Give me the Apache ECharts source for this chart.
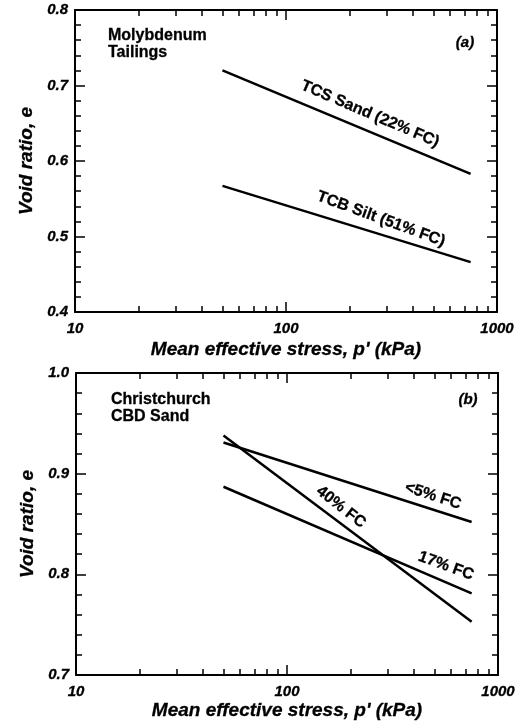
<!DOCTYPE html>
<html>
<head>
<meta charset="utf-8">
<script src="https://cdn.jsdelivr.net/npm/echarts@6/dist/echarts.min.js"></script>
<style>
html, body { margin: 0; padding: 0; background: #fff; }
#main { width: 527px; height: 726px; }
</style>
</head>
<body>
<div id="main"></div>
<script>
// 数据 (a) Molybdenum Tailings
var stressA = [50, 750];
var tcsSand = [0.720, 0.583];
var tcbSilt = [0.567, 0.466];
// 数据 (b) Christchurch CBD Sand
var stressB = [50, 750];
var fc5 = [0.931, 0.852];
var fc17 = [0.887, 0.781];
var fc40 = [0.938, 0.753];
// 刻度
var minorX = [20, 30, 40, 50, 60, 70, 80, 90, 200, 300, 400, 500, 600, 700, 800, 900];

var FONT = 'Liberation Sans, Arial, sans-serif';

// 简易 extend
var $ = {
    extend: function (target) {
        for (var i = 1; i < arguments.length; i++) {
            var src = arguments[i];
            for (var k in src) { target[k] = src[k]; }
        }
        return target;
    }
};

function pairs(xs, ys) {
    var out = [];
    for (var i = 0; i < xs.length; i++) {
        out.push([xs[i], ys[i]]);
    }
    return out;
}

var labelStyle = {
    fontFamily: FONT, fontWeight: 'bold', fontStyle: 'italic', fontSize: 15, color: '#000',
    textBorderColor: '#000', textBorderWidth: 0.3
};
var nameStyle = {
    fontFamily: FONT, fontWeight: 'bold', fontStyle: 'italic', fontSize: 19, color: '#000',
    textBorderColor: '#000', textBorderWidth: 0.3
};

function xAxes(gridIndex, nameGap) {
    var base = {
        type: 'log', logBase: 10, min: 10, max: 1000, gridIndex: gridIndex,
        splitLine: { show: false }
    };
    return [
        // 下方主刻度
        $.extend({}, base, {
            position: 'bottom',
            name: "Mean effective stress, p' (kPa)",
            nameLocation: 'middle',
            nameGap: nameGap,
            nameTextStyle: nameStyle,
            axisLine: { show: true, lineStyle: { color: '#000', width: 2 } },
            axisTick: { show: true, inside: true, length: 10, lineStyle: { color: '#000', width: 1.5 } },
            axisLabel: $.extend({ show: true, margin: 9, formatter: function (v) { return String(v); } }, labelStyle)
        }),
        // 下方次刻度
        $.extend({}, base, {
            position: 'bottom',
            axisLine: { show: false },
            axisTick: { show: true, inside: true, length: 6, customValues: minorX, lineStyle: { color: '#000', width: 1.5 } },
            axisLabel: { show: false }
        }),
        // 上方主刻度
        $.extend({}, base, {
            position: 'top',
            axisLine: { show: true, lineStyle: { color: '#000', width: 2 } },
            axisTick: { show: true, inside: true, length: 10, lineStyle: { color: '#000', width: 1.5 } },
            axisLabel: { show: false }
        }),
        // 上方次刻度
        $.extend({}, base, {
            position: 'top',
            axisLine: { show: false },
            axisTick: { show: true, inside: true, length: 6, customValues: minorX, lineStyle: { color: '#000', width: 1.5 } },
            axisLabel: { show: false }
        })
    ];
}

function yAxes(gridIndex, min, max) {
    var base = {
        type: 'value', min: min, max: max, interval: 0.1, gridIndex: gridIndex,
        splitLine: { show: false },
        axisLine: { show: true, lineStyle: { color: '#000', width: 2 } },
        axisTick: { show: true, inside: true, length: 10, lineStyle: { color: '#000', width: 1.5 } },
        minorTick: { show: true, splitNumber: 5, length: 6, lineStyle: { color: '#000', width: 1.5 } }
    };
    return [
        $.extend({}, base, {
            position: 'left',
            name: 'Void ratio, e',
            nameLocation: 'middle',
            nameGap: 37,
            nameTextStyle: nameStyle,
            axisLabel: $.extend({ show: true, margin: 7, formatter: function (v) { return v.toFixed(1); } }, labelStyle)
        }),
        $.extend({}, base, {
            position: 'right',
            axisLabel: { show: false }
        })
    ];
}

function lineSeries(name, xIdx, yIdx, data) {
    return {
        name: name,
        type: 'line',
        xAxisIndex: xIdx,
        yAxisIndex: yIdx,
        data: data,
        symbol: 'none',
        silent: true,
        lineStyle: { color: '#000', width: 2.5 }
    };
}

function txt(text, x, y, opts) {
    var o = opts || {};
    return {
        type: 'text',
        x: x,
        y: y,
        rotation: (o.rot || 0) * Math.PI / 180,
        silent: true,
        style: {
            text: text,
            fill: '#000',
            stroke: '#000',
            lineWidth: 0.3,
            font: (o.italic ? 'italic ' : '') + 'bold ' + (o.size || 15) + 'px ' + FONT,
            textAlign: o.align || 'center',
            textVerticalAlign: 'middle',
            lineHeight: o.lineHeight || 17
        }
    };
}

var myChart = echarts.init(document.getElementById('main'));

var option = {
    backgroundColor: '#fff',
    animation: false,
    grid: [
        { left: 75, top: 10, width: 422, height: 302 },
        { left: 76, top: 373, width: 422, height: 302 }
    ],
    xAxis: xAxes(0, 28).concat(xAxes(1, 26)),
    yAxis: yAxes(0, 0.4, 0.8).concat(yAxes(1, 0.7, 1.0)),
    series: [
        lineSeries('TCS Sand (22% FC)', 0, 0, pairs(stressA, tcsSand)),
        lineSeries('TCB Silt (51% FC)', 0, 0, pairs(stressA, tcbSilt)),
        lineSeries('<5% FC', 4, 2, pairs(stressB, fc5)),
        lineSeries('17% FC', 4, 2, pairs(stressB, fc17)),
        lineSeries('40% FC', 4, 2, pairs(stressB, fc40))
    ],
    graphic: [
        txt('Molybdenum\nTailings', 108, 44, { size: 16, align: 'left' }),
        txt('(a)', 465, 43, { size: 15, italic: true }),
        txt('Christchurch\nCBD Sand', 111, 408, { size: 16, align: 'left' }),
        txt('(b)', 468, 400, { size: 15, italic: true }),
        txt('TCS Sand (22% FC)', 370, 114, { size: 16, rot: -23 }),
        txt('TCB Silt (51% FC)', 381, 219, { size: 16, rot: -20 }),
        txt('<5% FC', 433, 496, { size: 16, rot: -18 }),
        txt('40% FC', 341, 507, { size: 16, rot: -38 }),
        txt('17% FC', 446, 566, { size: 16, rot: -20 })
    ]
};

myChart.setOption(option);
</script>
</body>
</html>
